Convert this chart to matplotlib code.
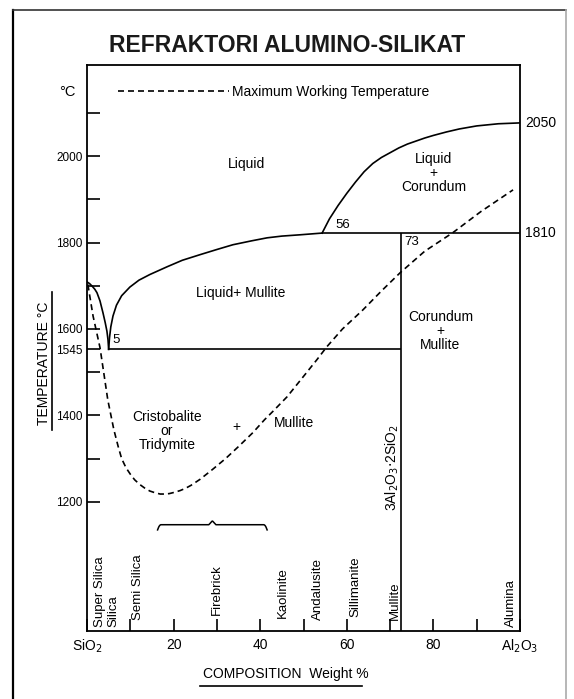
import numpy as np
import matplotlib
matplotlib.use("Agg")
import matplotlib.pyplot as plt
from matplotlib.lines import Line2D

plt.rcParams["font.family"] = ["Liberation Sans", "DejaVu Sans"]

# --- data (composition wt% Al2O3, temperature degC) ---
# liquidus, silica side (SiO2 melting point down to the eutectic)
liq_si_x = [0, 0.6, 1.2, 1.8, 2.3, 3.0, 3.7, 4.2, 4.6, 4.85, 5.0]
liq_si_t = [1709, 1705, 1699, 1692, 1684, 1665, 1637, 1615, 1595, 1575, 1553]
# liquidus, eutectic up to the peritectic at 56 %
liq_mu_x = [5.0, 5.2, 5.5, 6.0, 6.8, 8.0, 9.9, 12.0, 14.5, 18.5, 22.0, 26.1, 30.0,
            33.7, 38.0, 41.6, 45.0, 49.2, 54.3]
liq_mu_t = [1553, 1580, 1605, 1630, 1655, 1677, 1697, 1713, 1726, 1744, 1759, 1772, 1784,
            1795, 1804, 1811, 1815, 1818, 1822]
# liquidus, peritectic up to alumina melting point
liq_al_x = [54.3, 56, 58, 60, 62, 64, 66, 68, 70, 72, 74, 76, 78, 80, 83, 86, 90, 95, 100]
liq_al_t = [1822, 1855, 1886, 1914, 1940, 1964, 1983, 1997, 2008, 2019, 2028, 2035, 2042,
            2048, 2056, 2063, 2070, 2075, 2077]
# maximum working temperature (dashed)
mwt_x = [0.2, 1.4, 3.0, 4.0, 4.8, 6.2, 7.2, 8.0, 9.0, 10.0, 11.0, 12.2, 13.3, 14.5, 15.7,
         16.9, 18.0, 19.0, 20.2, 21.5, 22.7, 24.0, 26.1, 29.0, 32.0, 35.0, 38.3, 41.0,
         43.0, 46.2, 49.9, 53.1, 55.4, 59.0, 63.7, 68.0, 72.3, 78.0, 84.5, 91.0, 98.4]
mwt_t = [1703, 1630, 1557, 1490, 1436, 1367, 1328, 1300, 1279, 1264, 1251, 1240, 1232,
         1225, 1221, 1218, 1218, 1219, 1222, 1226, 1231, 1238, 1252, 1275, 1300, 1328,
         1360, 1390, 1410, 1443, 1489, 1529, 1559, 1600, 1644, 1688, 1730, 1780, 1823,
         1872, 1922]

EUTECTIC_X, EUTECTIC_T = 5.0, 1553      # drawn position of the 1545 line
PERITECTIC_X, PERITECTIC_T = 54.3, 1822  # drawn position of the 1810 line
MULLITE_X = 72.5

ytick_major = [1200, 1400, 1600, 1800, 2000]
ytick_minor = [1300, 1500, 1700, 1900, 2100]
xtick_vals = [0, 20, 40, 60, 80, 100]
xtick_labels = ["SiO$_2$", "20", "40", "60", "80", "Al$_2$O$_3$"]
xtick_minor = [10, 30, 50, 70, 90]

regions = [("Liquid", 36.8, 1981), ("Liquid\n+\nCorundum", 80.0, 1960),
           ("Liquid+ Mullite", 35.5, 1684), ("Corundum\n+\nMullite", 81.6, 1596),
           ("Cristobalite\nor\nTridymite", 18.5, 1365), ("+", 34.6, 1374)]

minerals = ["Super Silica", "Silica", "Semi Silica", "Firebrick", "Kaolinite",
            "Andalusite", "Sillimanite", "Mullite", "Alumina"]
mineral_x = [3.0, 6.0, 11.8, 30.0, 45.3, 53.3, 62.0, 71.0, 97.8]
mineral_t = [911, 911, 927, 938, 931, 927, 933, 927, 911]

brace_x = (16.3, 41.6)
brace_t = 1147

# --- figure ---
W, H = 574, 699
fig = plt.figure(figsize=(W / 100, H / 100), dpi=100)
ax = fig.add_axes([87 / W, (H - 631) / H, 433 / W, 566 / H])
ax.set_xlim(0, 100)
ax.set_ylim(901, 2211)

lw = 1.2
for s in ax.spines.values():
    s.set_linewidth(1.3)

ax.plot(liq_si_x, liq_si_t, color="black", lw=lw)
ax.plot(liq_mu_x, liq_mu_t, color="black", lw=lw)
ax.plot(liq_al_x, liq_al_t, color="black", lw=lw)
ax.hlines(EUTECTIC_T, EUTECTIC_X, MULLITE_X, color="black", lw=lw)
ax.hlines(PERITECTIC_T, PERITECTIC_X, 100, color="black", lw=lw)
ax.vlines(MULLITE_X, 901, PERITECTIC_T, color="black", lw=lw)
mwt, = ax.plot(mwt_x, mwt_t, color="black", lw=lw, dashes=(3.6, 2.4),
               label="Maximum Working Temperature")

# ticks
ax.set_yticks(ytick_major + [EUTECTIC_T])
ax.set_yticklabels([str(v) for v in ytick_major] + ["1545"])
ax.set_yticks(ytick_minor, minor=True)
ax.set_xticks(xtick_vals)
ax.set_xticklabels(xtick_labels)
ax.set_xticks(xtick_minor, minor=True)
ax.tick_params(which="both", direction="in", length=9, width=1.2, labelsize=10,
               top=False, right=False)
ax.tick_params(axis="y", pad=3, labelsize=8.5)
ax.tick_params(axis="x", pad=5)

# region labels
for txt, x, t in regions:
    ax.text(x, t, txt, ha="center", va="center", fontsize=10, linespacing=1.0)
ax.text(43.2, 1382, "Mullite", ha="left", va="center", fontsize=10)
ax.text(5.8, 1575, "5", ha="left", va="center", fontsize=9.5)
ax.text(57.3, 1826, "56", ha="left", va="bottom", fontsize=9.5)
ax.text(73.3, 1816, "73", ha="left", va="top", fontsize=9.5)
ax.text(101.2, liq_al_t[-1], "2050", ha="left", va="center", fontsize=10, clip_on=False)
ax.text(101.2, PERITECTIC_T, "1810", ha="left", va="center", fontsize=10, clip_on=False)
ax.text(70.6, 1279, r"3Al$_2$O$_3$$\cdot$2SiO$_2$", rotation=90, ha="center",
        va="center", fontsize=10)

for name, x, t in zip(minerals, mineral_x, mineral_t):
    ax.text(x, t, name, rotation=90, ha="center", va="bottom", fontsize=9.5)

# brace over the firebrick range
bx = np.linspace(brace_x[0], brace_x[1], 200)
mid = (brace_x[0] + brace_x[1]) / 2
bt = np.full_like(bx, brace_t)
end = np.clip(1 - (bx - brace_x[0]) / 0.8, 0, 1) + np.clip(1 - (brace_x[1] - bx) / 0.8, 0, 1)
bt = bt - 12 * end ** 2 + 9 * np.clip(1 - abs(bx - mid) / 0.8, 0, 1)
ax.plot(bx, bt, color="black", lw=1.1)

ax.legend(handles=[mwt], loc="center left", bbox_to_anchor=(0.072, 0.952),
          frameon=False, handlelength=8.0, handletextpad=0.2, borderpad=0,
          borderaxespad=0, fontsize=10)

# outer labels
fig.text(67 / W, 1 - 92 / H, "°C", ha="center", va="center", fontsize=10.5)
fig.text(44 / W, 1 - 363 / H, "TEMPERATURE °C", rotation=90, ha="center",
         va="center", fontsize=10)
fig.add_artist(Line2D([52 / W, 52 / W], [1 - 292 / H, 1 - 430 / H], color="black",
                      lw=1.2, transform=fig.transFigure))
fig.text(286 / W, 1 - 674 / H, "COMPOSITION  Weight %", ha="center", va="center",
         fontsize=10)
fig.add_artist(Line2D([200 / W, 362 / W], [1 - 686 / H, 1 - 686 / H], color="black",
                      lw=1.2, transform=fig.transFigure))

fig.text(0.5, 1 - 45 / H, "REFRAKTORI ALUMINO-SILIKAT", ha="center", va="center",
         fontsize=16.5, fontweight="bold", color="#1a1a1a")

# frame round the picture
fig.add_artist(Line2D([13 / W, 13 / W], [0, 1 - 10 / H], color="black", lw=1.6,
                      transform=fig.transFigure))
fig.add_artist(Line2D([13 / W, 566 / W], [1 - 10 / H, 1 - 10 / H], color="#333333",
                      lw=1.2, transform=fig.transFigure))
fig.add_artist(Line2D([566 / W, 566 / W], [0, 1 - 10 / H], color="#aaaaaa", lw=1.2,
                      transform=fig.transFigure))

fig.savefig("out.png", dpi=100)
